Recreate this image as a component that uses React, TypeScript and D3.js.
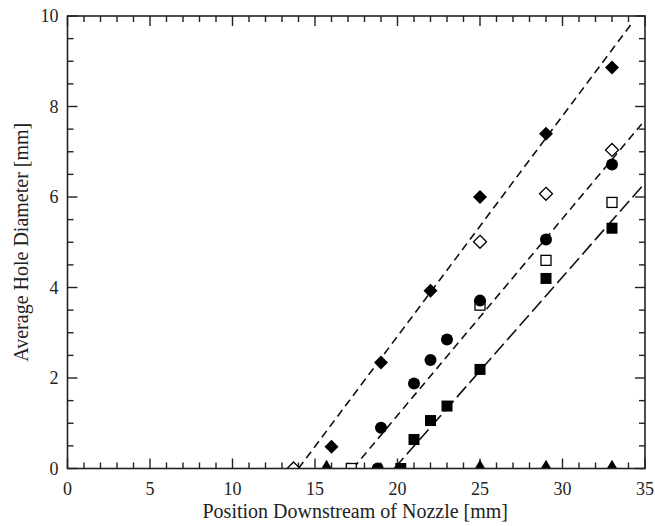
import React from "react";
import * as d3 from "d3";

// Measured hole diameters (mm) at positions downstream of the nozzle (mm)
const filledDiamondX = [16, 19, 22, 25, 29, 33];
const filledDiamondY = [0.48, 2.34, 3.93, 6.0, 7.4, 8.86];

const openDiamondX = [13.7, 25, 29, 33];
const openDiamondY = [0, 5.01, 6.07, 7.04];

const filledCircleX = [18.8, 19, 21, 22, 23, 25, 29, 33];
const filledCircleY = [0, 0.9, 1.88, 2.4, 2.85, 3.71, 5.06, 6.72];

const openSquareX = [17.2, 25, 29, 33];
const openSquareY = [0, 3.61, 4.6, 5.88];

const filledSquareX = [20.2, 21, 22, 23, 25, 29, 33];
const filledSquareY = [0, 0.64, 1.06, 1.38, 2.19, 4.2, 5.31];

const filledTriangleX = [15.7, 25, 29, 33];
const filledTriangleY = [0, 0, 0, 0];

// Linear fits: x-intercept, x end and slope
const fitStartX = [14.0, 17.3, 19.8];
const fitEndX = [34.3, 34.8, 34.8];
const fitSlope = [0.487, 0.435, 0.415];

const xTickLabels = [0, 5, 10, 15, 20, 25, 30, 35];
const yTickLabels = [0, 2, 4, 6, 8, 10];

const W = 655;
const H = 526;
const left = 67.5;
const right = 645;
const top = 16;
const bottom = 468.5;

export default function App() {
  const x = d3.scaleLinear().domain([0, 35]).range([left, right]);
  const y = d3.scaleLinear().domain([0, 10]).range([bottom, top]);

  const font = "'Liberation Serif', 'Times New Roman', serif";

  const pts = (xs: number[], ys: number[]) => xs.map((v, i) => [v, ys[i]] as [number, number]);

  const diamond = (cx: number, cy: number, r: number) =>
    `M${cx},${cy - r}L${cx + r},${cy}L${cx},${cy + r}L${cx - r},${cy}Z`;
  const tri = (cx: number, cy: number, r: number) =>
    `M${cx},${cy - r * 1.1}L${cx + r},${cy + r * 0.6}L${cx - r},${cy + r * 0.6}Z`;

  const xMinor = d3.range(0, 36, 1);
  const yMinor = d3.range(0, 10.01, 0.5);

  const fitLines = fitStartX.map((x0, i) => {
    const x1 = fitEndX[i];
    const line = d3.line<[number, number]>().x((d) => x(d[0])).y((d) => y(d[1]));
    return line([
      [x0, 0],
      [x1, fitSlope[i] * (x1 - x0)],
    ]) as string;
  });
  const dashes = ["8,5", "8,5", "14,5"];

  return (
    <svg width={W} height={H} style={{ position: "absolute", left: 0, top: 0, background: "#fff" }}>
      <defs>
        <clipPath id="plotArea">
          <rect x={left} y={top} width={right - left} height={bottom - top} />
        </clipPath>
      </defs>

      {/* ticks on all four sides, pointing inward */}
      <g stroke="#222" strokeWidth={1.4}>
        {xMinor.map((v) => {
          const len = v % 5 === 0 ? 10 : 6;
          return (
            <g key={"xt" + v}>
              <line x1={x(v)} x2={x(v)} y1={bottom} y2={bottom - len} />
              <line x1={x(v)} x2={x(v)} y1={top} y2={top + len} />
            </g>
          );
        })}
        {yMinor.map((v) => {
          const len = Math.abs(v % 2) < 1e-6 ? 10 : 6;
          return (
            <g key={"yt" + v}>
              <line x1={left} x2={left + len} y1={y(v)} y2={y(v)} />
              <line x1={right} x2={right - len} y1={y(v)} y2={y(v)} />
            </g>
          );
        })}
      </g>

      <g clipPath="url(#plotArea)">
        {fitLines.map((d, i) => (
          <path key={"fit" + i} d={d} fill="none" stroke="#111" strokeWidth={1.6} strokeDasharray={dashes[i]} />
        ))}

        {pts(filledTriangleX, filledTriangleY).map(([a, b], i) => (
          <path key={"ft" + i} d={tri(x(a), y(b), 8)} fill="#000" />
        ))}
        {pts(filledSquareX, filledSquareY).map(([a, b], i) => (
          <rect key={"fs" + i} x={x(a) - 5.5} y={y(b) - 5.5} width={11} height={11} fill="#000" />
        ))}
        {pts(openSquareX, openSquareY).map(([a, b], i) => (
          <rect key={"os" + i} x={x(a) - 5} y={y(b) - 5} width={10} height={10} fill="#fff" stroke="#000" strokeWidth={1.3} />
        ))}
        {pts(filledCircleX, filledCircleY).map(([a, b], i) => (
          <circle key={"fc" + i} cx={x(a)} cy={y(b)} r={6} fill="#000" />
        ))}
        {pts(openDiamondX, openDiamondY).map(([a, b], i) => (
          <path key={"od" + i} d={diamond(x(a), y(b), 6.5)} fill="#fff" stroke="#000" strokeWidth={1.3} />
        ))}
        {pts(filledDiamondX, filledDiamondY).map(([a, b], i) => (
          <path key={"fd" + i} d={diamond(x(a), y(b), 7)} fill="#000" />
        ))}
      </g>

      <rect x={left} y={top} width={right - left} height={bottom - top} fill="none" stroke="#222" strokeWidth={1.6} />

      <g fontFamily={font} fontSize={18} fill="#222">
        {xTickLabels.map((v) => (
          <text key={"xl" + v} x={x(v)} y={bottom + 26} textAnchor="middle">
            {v}
          </text>
        ))}
        {yTickLabels.map((v) => (
          <text key={"yl" + v} x={left - 9} y={y(v) + 6} textAnchor="end">
            {v}
          </text>
        ))}
      </g>

      <text x={(left + right) / 2 - 1} y={518} textAnchor="middle" fontFamily={font} fontSize={20} fill="#222">
        Position Downstream of Nozzle [mm]
      </text>
      <text
        transform={`translate(28, ${(top + bottom) / 2}) rotate(-90)`}
        textAnchor="middle"
        fontFamily={font}
        fontSize={20}
        fill="#222"
      >
        Average Hole Diameter [mm]
      </text>
    </svg>
  );
}
